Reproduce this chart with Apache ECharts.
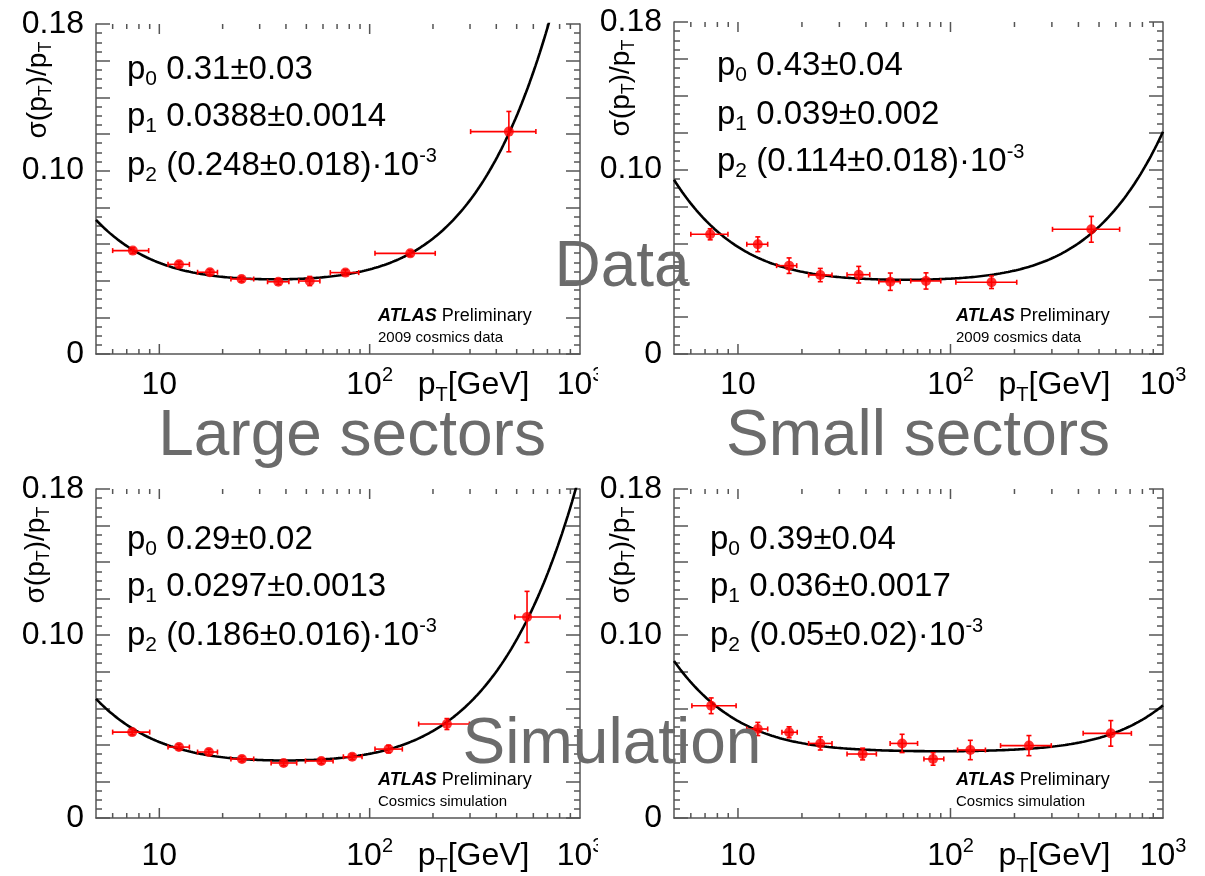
<!DOCTYPE html>
<html>
<head>
<meta charset="utf-8">
<script src="https://cdn.jsdelivr.net/npm/echarts@6/dist/echarts.min.js"></script>
<style>
html, body { margin: 0; padding: 0; background: #fff; }
#chart { width: 1205px; height: 876px; }
</style>
</head>
<body>
<div id="chart"></div>
<script>
// Muon momentum resolution sigma(pT)/pT versus pT for large and small sectors,
// 2009 cosmics data (top row) and cosmics simulation (bottom row).

// Fit: sigma/pT = sqrt((p0/pT)^2 + p1^2 + (p2*pT)^2), one entry per panel
const fitP0 = [0.31, 0.43, 0.29, 0.39];
const fitP1 = [0.0388, 0.039, 0.0297, 0.036];
const fitP2 = [0.248e-3, 0.114e-3, 0.186e-3, 0.05e-3];
const paramText0 = ['0.31±0.03', '0.43±0.04', '0.29±0.02', '0.39±0.04'];
const paramText1 = ['0.0388±0.0014', '0.039±0.002', '0.0297±0.0013', '0.036±0.0017'];
const paramText2 = ['(0.248±0.018)·10', '(0.114±0.018)·10', '(0.186±0.016)·10', '(0.05±0.02)·10'];
const sampleText = ['2009 cosmics data', '2009 cosmics data', 'Cosmics simulation', 'Cosmics simulation'];

// Large sectors, data
const largeDataPt    = [7.48, 12.4, 17.4, 24.6, 36.8, 51.9, 76.7, 156, 459];
const largeDataRes   = [0.0564, 0.0489, 0.0446, 0.0409, 0.0394, 0.0398, 0.0444, 0.0549, 0.1213];
const largeDataPtLo  = [6.0, 11.0, 15.2, 21.9, 32.7, 46, 65, 106, 302];
const largeDataPtHi  = [8.9, 13.9, 18.9, 28.1, 41.3, 58, 88.7, 205, 617];
const largeDataErr   = [0.0015, 0.0015, 0.0015, 0.0015, 0.0015, 0.0025, 0.0015, 0.0015, 0.011];

// Small sectors, data
const smallDataPt    = [7.40, 12.4, 17.4, 24.4, 37.0, 52.1, 76.7, 156, 460];
const smallDataRes   = [0.0649, 0.0595, 0.0479, 0.0428, 0.0430, 0.0392, 0.0396, 0.0389, 0.0676];
const smallDataPtLo  = [6.0, 11.0, 15.2, 21.5, 32.6, 46, 65, 106, 302];
const smallDataPtHi  = [8.97, 13.8, 18.9, 27.7, 41.7, 58, 90, 205, 625];
const smallDataErr   = [0.003, 0.004, 0.0042, 0.0036, 0.0045, 0.0047, 0.0044, 0.0034, 0.007];

// Large sectors, simulation
const largeSimPt     = [7.43, 12.4, 17.2, 24.7, 39.0, 58.9, 82.6, 123, 233, 560];
const largeSimRes    = [0.0470, 0.0388, 0.0361, 0.0323, 0.0301, 0.0312, 0.0335, 0.0377, 0.0514, 0.110];
const largeSimPtLo   = [6.0, 11.0, 15.2, 21.9, 34, 49.5, 75, 106, 171, 490];
const largeSimPtHi   = [9.0, 13.9, 18.9, 28.1, 45, 67, 92, 143, 298, 804];
const largeSimErr    = [0.0015, 0.0015, 0.0015, 0.0015, 0.0015, 0.0015, 0.0015, 0.002, 0.003, 0.014];

// Small sectors, simulation
const smallSimPt     = [7.48, 12.4, 17.4, 24.4, 38.6, 59.2, 82.8, 124, 234, 568];
const smallSimRes    = [0.0614, 0.0487, 0.0469, 0.0408, 0.0350, 0.0408, 0.0323, 0.0372, 0.0396, 0.0463];
const smallSimPtLo   = [6.07, 11.0, 16.1, 21.5, 32.6, 52, 75, 108, 172, 421];
const smallSimPtHi   = [9.8, 13.8, 19.0, 27.7, 44.8, 70, 93, 146, 298, 710];
const smallSimErr    = [0.0043, 0.0036, 0.003, 0.0036, 0.0032, 0.005, 0.0034, 0.0053, 0.0055, 0.007];

// Axis tick labels
const xLabelValues = [10, 100, 1000];
const xLabelTexts  = ['{m|10}', '{m|10}{u|2}', '{m|10}{u|3}'];
const yLabelValues = [0, 0.10, 0.18];
const yLabelTexts  = ['0', '0.10', '0.18'];

const panelPt    = [largeDataPt, smallDataPt, largeSimPt, smallSimPt];
const panelRes   = [largeDataRes, smallDataRes, largeSimRes, smallSimRes];
const panelPtLo  = [largeDataPtLo, smallDataPtLo, largeSimPtLo, smallSimPtLo];
const panelPtHi  = [largeDataPtHi, smallDataPtHi, largeSimPtHi, smallSimPtHi];
const panelErr   = [largeDataErr, smallDataErr, largeSimErr, smallSimErr];

const FONT = "'Liberation Sans', Arial, Helvetica, sans-serif";
const FRAME = '#555';
const X_MIN = 5, X_MAX = 1000, Y_MAX = 0.18;

const grids = [
  { left: 96,  top: 24,  width: 484, height: 330 },
  { left: 674, top: 22,  width: 489, height: 332 },
  { left: 96,  top: 489, width: 484, height: 329 },
  { left: 674, top: 489, width: 489, height: 329 }
];

// log-axis minor/major tick positions (drawn on bottom and top edges)
const xTicks = [];
[1, 10, 100].forEach(dec => {
  for (let k = 1; k <= 9; k++) {
    const v = k * dec;
    if (v > X_MIN && v < X_MAX) xTicks.push([v, k === 1 ? 1 : 0]);
  }
});

function fitCurve(i) {
  const pts = [];
  const n = 240;
  const a = Math.log10(X_MIN), b = Math.log10(X_MAX);
  for (let k = 0; k <= n; k++) {
    const pt = Math.pow(10, a + (b - a) * k / n);
    const r = Math.sqrt(Math.pow(fitP0[i] / pt, 2) + fitP1[i] * fitP1[i] + Math.pow(fitP2[i] * pt, 2));
    pts.push([pt, r]);
  }
  return pts;
}

const tickLine = { color: FRAME, width: 1.5 };

const xAxes = [], yAxes = [], series = [];
grids.forEach((g, i) => {
  xAxes.push({
    gridIndex: i, type: 'log', logBase: 10, min: X_MIN, max: X_MAX,
    axisLine: { show: true, lineStyle: tickLine },
    axisTick: { show: false }, axisLabel: { show: false },
    splitLine: { show: false }, minorTick: { show: false }
  });
  ['left', 'right'].forEach(pos => {
    yAxes.push({
      gridIndex: i, type: 'value', min: 0, max: Y_MAX, interval: 0.02, position: pos,
      axisLine: { show: true, lineStyle: tickLine },
      axisTick: { show: true, inside: true, length: 14, lineStyle: tickLine },
      minorTick: { show: true, splitNumber: 4, length: 6, lineStyle: tickLine },
      splitLine: { show: false }, minorSplitLine: { show: false },
      axisLabel: {
        show: pos === 'left', margin: 12, color: '#000', fontSize: 32, fontFamily: FONT,
        formatter: v => {
          for (let k = 0; k < yLabelValues.length; k++) {
            if (Math.abs(v - yLabelValues[k]) < 1e-9) return yLabelTexts[k];
          }
          return '';
        }
      }
    });
  });

  // x ticks on bottom and top edges
  series.push({
    type: 'custom', xAxisIndex: i, yAxisIndex: 2 * i, silent: true, z: 2,
    data: xTicks,
    renderItem: (params, api) => {
      const v = api.value(0);
      const len = api.value(1) ? 10 : 5;
      const b = api.coord([v, 0]);
      const t = api.coord([v, Y_MAX]);
      const st = { stroke: FRAME, lineWidth: 1.5 };
      return {
        type: 'group', children: [
          { type: 'line', shape: { x1: b[0], y1: b[1], x2: b[0], y2: b[1] - len }, style: st },
          { type: 'line', shape: { x1: t[0], y1: t[1], x2: t[0], y2: t[1] + len }, style: st }
        ]
      };
    }
  });

  // fit function
  series.push({
    type: 'line', xAxisIndex: i, yAxisIndex: 2 * i, data: fitCurve(i),
    showSymbol: false, smooth: false, clip: true, silent: true, z: 3,
    lineStyle: { color: '#000', width: 2.6 }
  });

  // error bars
  const errData = panelPt[i].map((x, k) => [x, panelRes[i][k], panelPtLo[i][k], panelPtHi[i][k], panelErr[i][k]]);
  series.push({
    type: 'custom', xAxisIndex: i, yAxisIndex: 2 * i, silent: true, z: 4,
    data: errData,
    encode: { x: 0, y: 1 },
    renderItem: (params, api) => {
      const x = api.value(0), y = api.value(1), xl = api.value(2), xh = api.value(3), e = api.value(4);
      const pl = api.coord([xl, y]), ph = api.coord([xh, y]);
      const pb = api.coord([x, y - e]), pt = api.coord([x, y + e]);
      const st = { stroke: '#ff0000', lineWidth: 1.6 };
      const c = 2.5;
      return {
        type: 'group', children: [
          { type: 'line', shape: { x1: pl[0], y1: pl[1], x2: ph[0], y2: ph[1] }, style: st },
          { type: 'line', shape: { x1: pl[0], y1: pl[1] - c, x2: pl[0], y2: pl[1] + c }, style: st },
          { type: 'line', shape: { x1: ph[0], y1: ph[1] - c, x2: ph[0], y2: ph[1] + c }, style: st },
          { type: 'line', shape: { x1: pb[0], y1: pb[1], x2: pt[0], y2: pt[1] }, style: st },
          { type: 'line', shape: { x1: pb[0] - c, y1: pb[1], x2: pb[0] + c, y2: pb[1] }, style: st },
          { type: 'line', shape: { x1: pt[0] - c, y1: pt[1], x2: pt[0] + c, y2: pt[1] }, style: st }
        ]
      };
    }
  });

  // measured points
  series.push({
    type: 'scatter', xAxisIndex: i, yAxisIndex: 2 * i, silent: true, z: 5,
    symbol: 'circle', symbolSize: 10,
    itemStyle: { color: '#ff0000' },
    data: panelPt[i].map((x, k) => [x, panelRes[i][k]])
  });
});

const chart = echarts.init(document.getElementById('chart'), null, { renderer: 'canvas' });
chart.setOption({
  animation: false,
  backgroundColor: '#fff',
  grid: grids.map(g => Object.assign({ show: false, containLabel: false }, g)),
  xAxis: xAxes,
  yAxis: yAxes,
  series: series
});

// text layer
const mainRich = {
  m: { fontSize: 33, fontFamily: FONT, color: '#000', lineHeight: 40 },
  s: { fontSize: 21, fontFamily: FONT, color: '#000', lineHeight: 22, verticalAlign: 'bottom' },
  u: { fontSize: 20, fontFamily: FONT, color: '#000', lineHeight: 30, verticalAlign: 'top' }
};
const axisRich = {
  m: { fontSize: 32, fontFamily: FONT, color: '#000', lineHeight: 40 },
  s: { fontSize: 20, fontFamily: FONT, color: '#000', lineHeight: 20, verticalAlign: 'bottom' },
  u: { fontSize: 20, fontFamily: FONT, color: '#000', lineHeight: 26, verticalAlign: 'top' }
};
const titleRich = {
  m: { fontSize: 28, fontFamily: FONT, color: '#000', lineHeight: 34 },
  s: { fontSize: 18, fontFamily: FONT, color: '#000', lineHeight: 17, verticalAlign: 'bottom' }
};

function txt(x, y, text, rich, opts) {
  return Object.assign({
    type: 'text', x: x, y: y, z: 10, silent: true,
    style: {
      text: text, rich: rich, fill: '#000',
      align: 'left', verticalAlign: 'middle',
      textAlign: 'left', textVerticalAlign: 'middle'
    }
  }, opts || {});
}

const elements = [];
const paramX = [31, 43, 31, 36];
const paramY = [[46, 93, 142], [44, 93, 140], [51, 98, 147], [51, 98, 147]];
const labelDy = [31, 31, 38, 38];
const titleX = [38, 621, 36, 621];

grids.forEach((g, i) => {
  const px = g.left + paramX[i];
  elements.push(txt(px, g.top + paramY[i][0], '{m|p}{s|0}{m| ' + paramText0[i] + '}', mainRich));
  elements.push(txt(px, g.top + paramY[i][1], '{m|p}{s|1}{m| ' + paramText1[i] + '}', mainRich));
  elements.push(txt(px, g.top + paramY[i][2], '{m|p}{s|2}{m| ' + paramText2[i] + '}{u|-3}', mainRich));

  // experiment label
  const ax = g.left + 282;
  const bottom = g.top + g.height;
  elements.push(txt(ax, bottom - 38, '{b|ATLAS}{n| Preliminary}', {
    b: { fontSize: 18, fontFamily: FONT, fontWeight: 'bold', fontStyle: 'italic', color: '#000' },
    n: { fontSize: 18, fontFamily: FONT, color: '#000' }
  }));
  elements.push(txt(ax, bottom - 16, sampleText[i], null, {
    style: { text: sampleText[i], fontSize: 15, fontFamily: FONT, fill: '#000',
             align: 'left', verticalAlign: 'middle', textAlign: 'left', textVerticalAlign: 'middle' }
  }));

  // x tick labels
  const ly = bottom + labelDy[i];
  xLabelValues.forEach((v, k) => {
    const p = chart.convertToPixel({ xAxisIndex: i }, v);
    elements.push(txt(p, ly, xLabelTexts[k], axisRich, {
      style: { text: xLabelTexts[k], rich: axisRich, align: 'center', verticalAlign: 'middle',
               textAlign: 'center', textVerticalAlign: 'middle' }
    }));
  });
  // x axis title
  const p100 = chart.convertToPixel({ xAxisIndex: i }, 100);
  elements.push(txt(p100 + 48, ly, '{m|p}{s|T}{m|[GeV]}', axisRich));

  // y axis title, rotated
  elements.push(txt(titleX[i], g.top + 66, '{m|σ(p}{s|T}{m|)/p}{s|T}', titleRich, {
    rotation: Math.PI / 2,
    style: { text: '{m|σ(p}{s|T}{m|)/p}{s|T}', rich: titleRich, align: 'center', verticalAlign: 'middle',
             textAlign: 'center', textVerticalAlign: 'middle' }
  }));
});

// the left pads end before the last decade label
elements.push({ type: 'rect', z: 20, silent: true, shape: { x: 598, y: 364, width: 40, height: 40 }, style: { fill: '#fff' } });
elements.push({ type: 'rect', z: 20, silent: true, shape: { x: 598, y: 832, width: 40, height: 42 }, style: { fill: '#fff' } });

// panel captions
const capStyle = (t) => ({ text: t, fontSize: 64, fontFamily: FONT, fill: '#6b6b6b',
  align: 'center', verticalAlign: 'middle', textAlign: 'center', textVerticalAlign: 'middle' });
elements.push({ type: 'text', z: 30, silent: true, x: 622, y: 268, style: capStyle('Data') });
elements.push({ type: 'text', z: 30, silent: true, x: 352, y: 437, style: capStyle('Large sectors') });
elements.push({ type: 'text', z: 30, silent: true, x: 918, y: 437, style: capStyle('Small sectors') });
elements.push({ type: 'text', z: 30, silent: true, x: 612, y: 745, style: capStyle('Simulation') });

chart.setOption({ graphic: { elements: elements } });
</script>
</body>
</html>
